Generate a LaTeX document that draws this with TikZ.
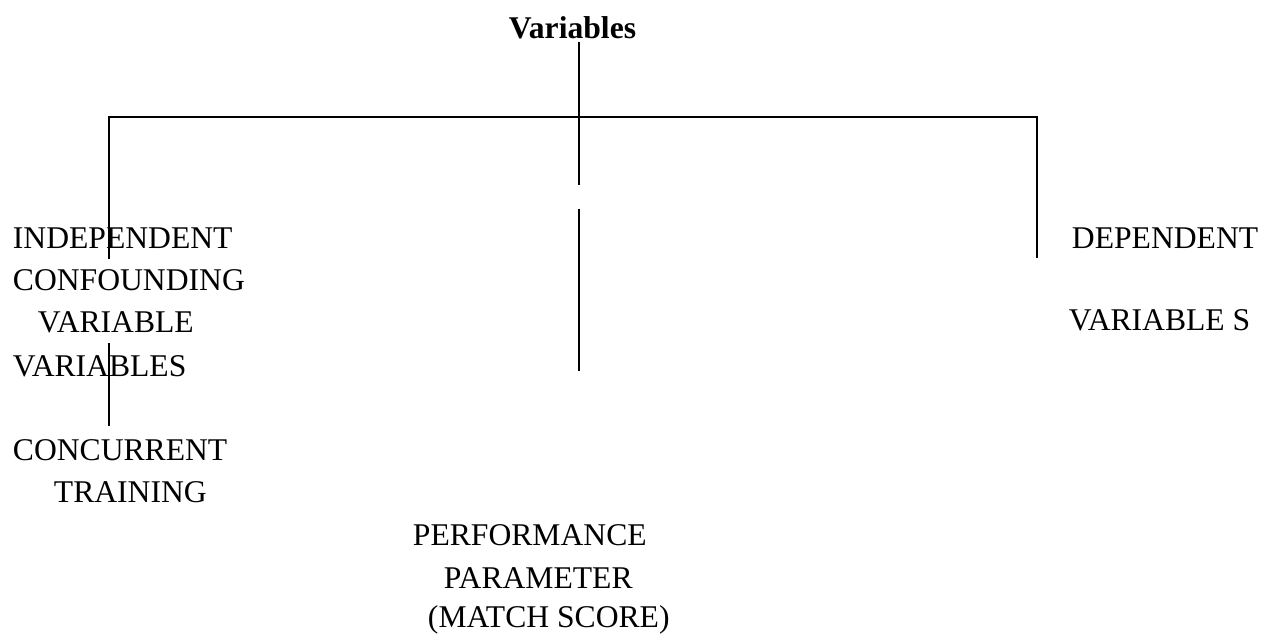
\documentclass[tikz,border=0pt]{standalone}
\usepackage{fontspec}
\setmainfont{Liberation Serif}
\usepackage{tikz}
\usetikzlibrary{positioning}

\begin{document}
\begin{tikzpicture}[x=0.02cm,y=-0.02cm,line width=1.1pt,
    every node/.style={font=\fontsize{18}{21}\selectfont,inner sep=0pt,anchor=base west}]
        \useasboundingbox (0,0) rectangle (1262,633);
        % title and the bar below it
        \node[font=\fontsize{18}{21}\selectfont\bfseries] (title) at (508,38) {Variables};
        \coordinate (top) at (579,42);
        \coordinate (barl) at (109,117);
        \coordinate (barm) at (579,117);
        \coordinate (barr) at (1037,117);
        % left column
        \node (indep) at (12,248) {INDEPENDENT};
        \node (conf) at (12,290) {CONFOUNDING};
        \node (var) at (37,332) {VARIABLE};
        \node (vars) at (12,376) {VARIABLES};
        \node (conc) at (12,460) {CONCURRENT};
        \node (train) at (53,502) {TRAINING};
        % right column
        \node (dep) at (1071,248) {DEPENDENT};
        \node (depvar) at (1068,330) {VARIABLE S};
        % bottom middle
        \node (perf) at (412,545) {PERFORMANCE};
        \node (param) at (443,588) {PARAMETER};
        \node (match) at (427,627) {(MATCH SCORE)};
        \coordinate (lend) at (109,259);
        \coordinate (lup) at (109,343);
        \coordinate (ldown) at (109,426);
        \coordinate (mgap) at (579,185);
        \coordinate (mup) at (579,209);
        \coordinate (mdown) at (579,371);
        \coordinate (rend) at (1037,258);
        \draw (top) -- (barm);
        \draw (barl |- lend) -- (barl) -- (barr) -- (rend);
        \draw (barm) -- (mgap);
        \draw (mup) -- (mdown);
        \draw (lup) -- (ldown);
      \end{tikzpicture}
\end{document}
